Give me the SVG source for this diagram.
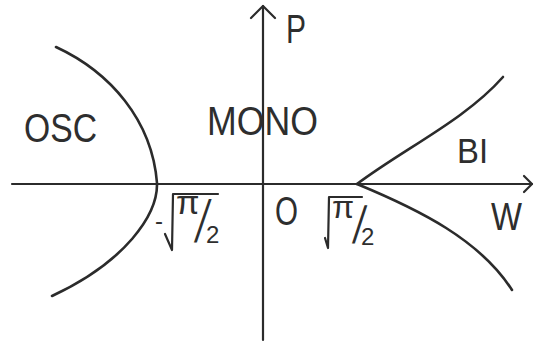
<svg xmlns="http://www.w3.org/2000/svg" width="538" height="345" viewBox="0 0 538 345">
<style>
.ln{fill:none;stroke:#2b2b2b;stroke-width:2.6;stroke-linecap:round;stroke-linejoin:round}
.ax{fill:none;stroke:#2b2b2b;stroke-width:2.2;stroke-linecap:round;stroke-linejoin:round}
.t{font-family:"Liberation Sans",Arial,sans-serif;fill:#2e2e2e}
</style>
<rect width="538" height="345" fill="#ffffff"/>
<g id="connectors">
<g id="axis-w"><path class="ax" d="M12,184 L532,184"/><path class="ax" d="M524,176 L532,184 L524,192"/></g>
<g id="axis-p"><path class="ax" d="M263,340 L263,6"/><path class="ax" d="M251,18 L263,6 L275,18"/></g>
<path id="curve-osc" class="ln" d="M56,47 C110,72 152,120 157,183 C158,215 125,262 52,296"/>
<path id="curve-bi-upper" class="ln" d="M357,184 C405,148 465,120 503,77"/>
<path id="curve-bi-lower" class="ln" d="M357,184 C420,210 480,240 512,290"/>
</g>
<g id="label-p"><text class="t" x="286" y="43" font-size="41" textLength="20" lengthAdjust="spacingAndGlyphs">P</text></g>
<g id="label-osc"><text class="t" x="24" y="142" font-size="40" textLength="73" lengthAdjust="spacingAndGlyphs">OSC</text></g>
<g id="label-mono"><text class="t" x="207" y="135" font-size="41" textLength="111" lengthAdjust="spacingAndGlyphs">MONO</text></g>
<g id="label-bi"><text class="t" x="457" y="163" font-size="35" textLength="31" lengthAdjust="spacingAndGlyphs">BI</text></g>
<g id="label-o"><text class="t" x="275" y="225" font-size="40" textLength="23" lengthAdjust="spacingAndGlyphs">O</text></g>
<g id="label-w"><text class="t" x="491" y="230" font-size="39" textLength="31" lengthAdjust="spacingAndGlyphs">W</text></g>
<g id="label-neg-root">
<path class="ax" d="M165,234 L172,250 L173,194 L218,194" stroke-width="2"/>
<text class="t"><tspan x="155" y="229" font-size="24">-</tspan><tspan x="176" y="214" font-size="34">π</tspan><tspan x="206" y="243" font-size="24">2</tspan></text>
<text class="t" font-size="36" transform="translate(194,242) skewX(-10) scale(1,1.65)">/</text>
</g>
<g id="label-pos-root">
<path class="ax" d="M325,238 L328,248 L329,197 L362,197" stroke-width="2"/>
<text class="t"><tspan x="332" y="218" font-size="32">π</tspan><tspan x="361" y="245" font-size="24">2</tspan></text>
<text class="t" font-size="36" transform="translate(352,243) skewX(-8) scale(1,1.45)">/</text>
</g>
</svg>
